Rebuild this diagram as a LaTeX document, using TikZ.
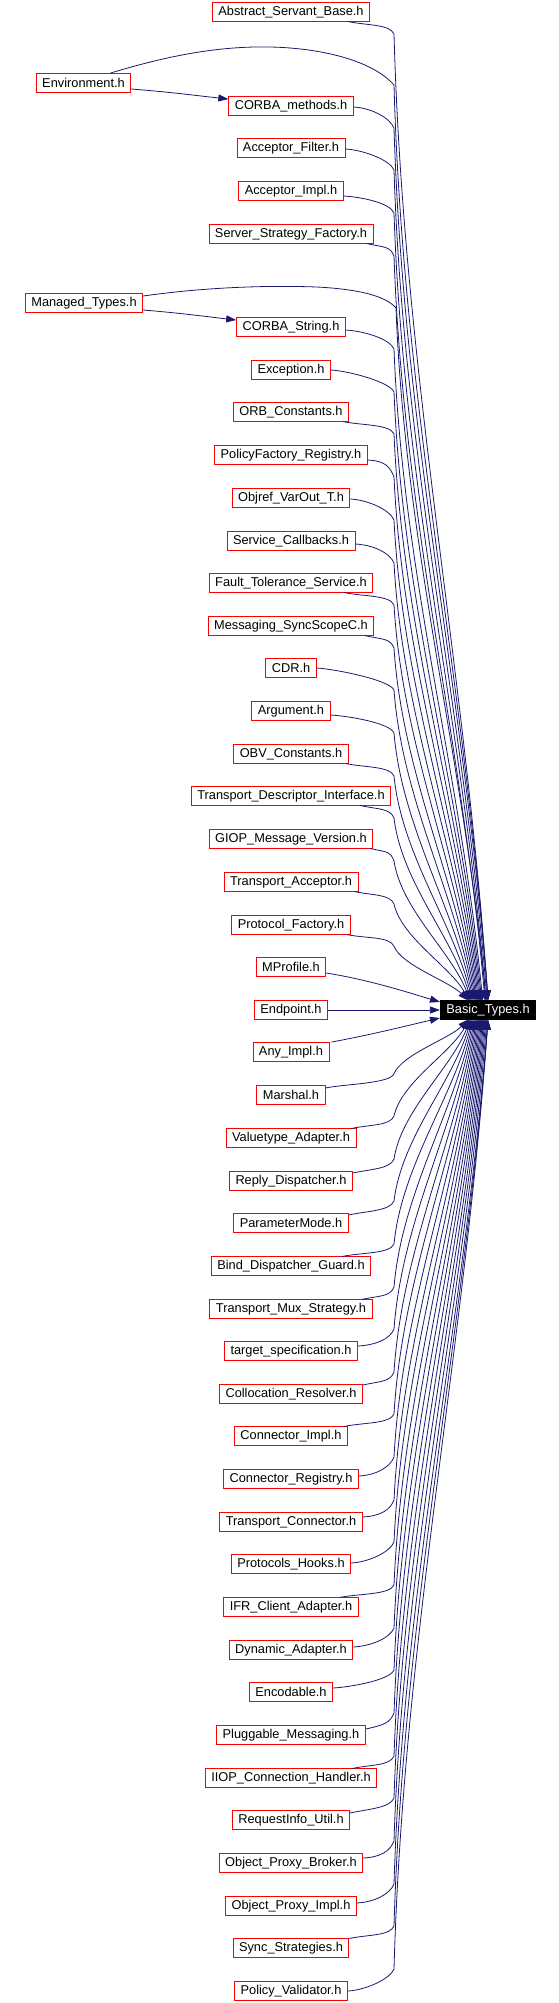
\documentclass[tikz,border=0pt]{standalone}
\usepackage{fontspec}
\setmainfont{Liberation Sans}
\usetikzlibrary{arrows.meta,calc}
\definecolor{edgeblue}{HTML}{191970}
\begin{document}
\begin{tikzpicture}[x=1pt,y=-1pt,
  file/.style={draw=red, line width=0.9pt, fill=white, minimum height=19pt,
    inner xsep=6pt, inner ysep=0pt, font=\fontsize{12.8pt}{14pt}\selectfont, text=black},
  target/.style={draw=black, line width=0.9pt, fill=black, minimum height=19pt,
    inner xsep=6pt, inner ysep=0pt, font=\fontsize{12.8pt}{14pt}\selectfont, text=white},
  edge/.style={draw=edgeblue, line width=0.8pt, -{Triangle[length=10pt,width=7pt]}},
]
\useasboundingbox (0,0) rectangle (558,2003);

% nodes
\node[file] (n1) at (291,12) {Abstract\_Servant\_Base.h};
\node[file] (n2) at (83.5,83) {Environment.h};
\node[file] (n3) at (291,106) {CORBA\_methods.h};
\node[file] (n4) at (291,148) {Acceptor\_Filter.h};
\node[file] (n5) at (291,191) {Acceptor\_Impl.h};
\node[file] (n6) at (291,234) {Server\_Strategy\_Factory.h};
\node[file] (n7) at (84,303) {Managed\_Types.h};
\node[file] (n8) at (291,327) {CORBA\_String.h};
\node[file] (n9) at (291,370) {Exception.h};
\node[file] (n10) at (291,412) {ORB\_Constants.h};
\node[file] (n11) at (291,455) {PolicyFactory\_Registry.h};
\node[file] (n12) at (291,498) {Objref\_VarOut\_T.h};
\node[file] (n13) at (291,541) {Service\_Callbacks.h};
\node[file] (n14) at (291,583) {Fault\_Tolerance\_Service.h};
\node[file] (n15) at (291,626) {Messaging\_SyncScopeC.h};
\node[file] (n16) at (291,668) {CDR.h};
\node[file] (n17) at (291,711) {Argument.h};
\node[file] (n18) at (291,754) {OBV\_Constants.h};
\node[file] (n19) at (291,796) {Transport\_Descriptor\_Interface.h};
\node[file] (n20) at (291,839) {GIOP\_Message\_Version.h};
\node[file] (n21) at (291,882) {Transport\_Acceptor.h};
\node[file] (n22) at (291,925) {Protocol\_Factory.h};
\node[file] (n23) at (291,967) {MProfile.h};
\node[file] (n24) at (291,1010) {Endpoint.h};
\node[file] (n25) at (291,1052) {Any\_Impl.h};
\node[file] (n26) at (291,1095) {Marshal.h};
\node[file] (n27) at (291,1138) {Valuetype\_Adapter.h};
\node[file] (n28) at (291,1181) {Reply\_Dispatcher.h};
\node[file] (n29) at (291,1223) {ParameterMode.h};
\node[file] (n30) at (291,1266) {Bind\_Dispatcher\_Guard.h};
\node[file] (n31) at (291,1309) {Transport\_Mux\_Strategy.h};
\node[file] (n32) at (291,1351) {target\_specification.h};
\node[file] (n33) at (291,1394) {Collocation\_Resolver.h};
\node[file] (n34) at (291,1436) {Connector\_Impl.h};
\node[file] (n35) at (291,1479) {Connector\_Registry.h};
\node[file] (n36) at (291,1522) {Transport\_Connector.h};
\node[file] (n37) at (291,1564) {Protocols\_Hooks.h};
\node[file] (n38) at (291,1607) {IFR\_Client\_Adapter.h};
\node[file] (n39) at (291,1650) {Dynamic\_Adapter.h};
\node[file] (n40) at (291,1692) {Encodable.h};
\node[file] (n41) at (291,1735) {Pluggable\_Messaging.h};
\node[file] (n42) at (291,1778) {IIOP\_Connection\_Handler.h};
\node[file] (n43) at (291,1820) {RequestInfo\_Util.h};
\node[file] (n44) at (291,1863) {Object\_Proxy\_Broker.h};
\node[file] (n45) at (291,1906) {Object\_Proxy\_Impl.h};
\node[file] (n46) at (291,1948) {Sync\_Strategies.h};
\node[file] (n47) at (291,1991) {Policy\_Validator.h};
\node[target] (bt) at (488,1010) {Basic\_Types.h};

% generic edges into Basic_Types.h
\foreach \n/\y/\o/\v in {
  n1/12/22/9.5, n3/106/0/1, n4/148/0/1, n5/191/0/5, n6/234/7/9.5,
  n8/327/0/3, n9/370/0/0, n10/412/6/9.5, n11/455/0/5, n12/498/0/1,
  n13/541/0/3, n14/583/29/9.5, n15/626/10/9.5, n16/668/0/0, n17/711/0/4,
  n18/754/3/9.5, n19/796/31/9.5, n20/839/3/9.5, n21/882/4/9.5, n22/925/4/9.5,
  n26/1095/0/7, n27/1138/5/9.5, n28/1181/0/8, n29/1223/0/8, n30/1266/29/9.5,
  n31/1309/11/9.5, n32/1351/0/5, n33/1394/0/9, n34/1436/4/9.5, n35/1479/0/3,
  n36/1522/0/5, n37/1564/0/1, n38/1607/19/9.5, n39/1650/0/3, n40/1692/0/4,
  n41/1735/0/6, n42/1778/25/9.5, n43/1820/0/7, n44/1863/0/5, n45/1906/0/3,
  n46/1948/0/9.5, n47/1991/0/0}
{
  \pgfmathsetmacro{\d}{abs(1010-\y)}
  \pgfmathsetmacro{\s}{(\y<1010) ? 1 : -1}
  \pgfmathsetmacro{\ky}{\y + \s*min(22,0.25*\d)}
  \pgfmathsetmacro{\ty}{(\y<1010) ? -9.5 : 9.5}
  \pgfmathsetmacro{\tx}{466+min(\d,900)/900*22}
  \pgfmathsetmacro{\dx}{\tx-394}
  \pgfmathsetmacro{\dy}{1010+\ty-\ky}
  \pgfmathsetmacro{\vs}{\s*\v}
  \pgfmathsetmacro{\fy}{\s*(\v>5 ? 4 : 1)}
  \pgfmathsetmacro{\cy}{-\s*10}
  \pgfmathsetmacro{\ax}{0.1*\dx}
  \pgfmathsetmacro{\ay}{0.35*\dy}
  \pgfmathsetmacro{\bx}{-0.25*\dx}
  \pgfmathsetmacro{\by}{-0.35*\dy}
  \pgfmathsetmacro{\ex}{\tx-488}
  \draw[edge] ($(\n.east)+(-\o,\vs)$) .. controls +(18,\fy) and +(-4,\cy) ..
    (394,\ky) .. controls +(\ax,\ay) and +(\bx,\by) .. ($(bt.center)+(\ex,\ty)$);
}

% Environment.h
\draw[edge] ($(n2.north)+(27,0)$) .. controls (170,55) and (220,46) .. (270,47)
  .. controls (320,48) and (372,60) .. (394,85)
  .. controls +(9,320) and +(-23,-320) .. ($(bt.center)+(0,-9.5)$);
\draw[edge] ($(n2.east)+(0,6)$) .. controls (170,92) and (200,96) .. ($(n3.west)+(0,-7)$);

% Managed_Types.h
\draw[edge] ($(n7.east)+(0,-7)$) .. controls (200,288) and (260,285) .. (317,287)
  .. controls (355,289) and (385,295) .. (396,308)
  .. controls +(9,240) and +(-22,-240) .. ($(bt.center)+(-2,-9.5)$);
\draw[edge] ($(n7.east)+(0,7)$) .. controls (180,313) and (210,317) .. ($(n8.west)+(0,-7)$);

% direct neighbours
\draw[edge] ($(n23.east)+(0,6)$) .. controls (370,980) and (410,993) .. ($(bt.west)+(0,-8)$);
\draw[edge] (n24) -- (bt);
\draw[edge] ($(n25.north east)+(2,0)$) .. controls (370,1035) and (410,1025) .. ($(bt.west)+(0,8)$);
\end{tikzpicture}
\end{document}
